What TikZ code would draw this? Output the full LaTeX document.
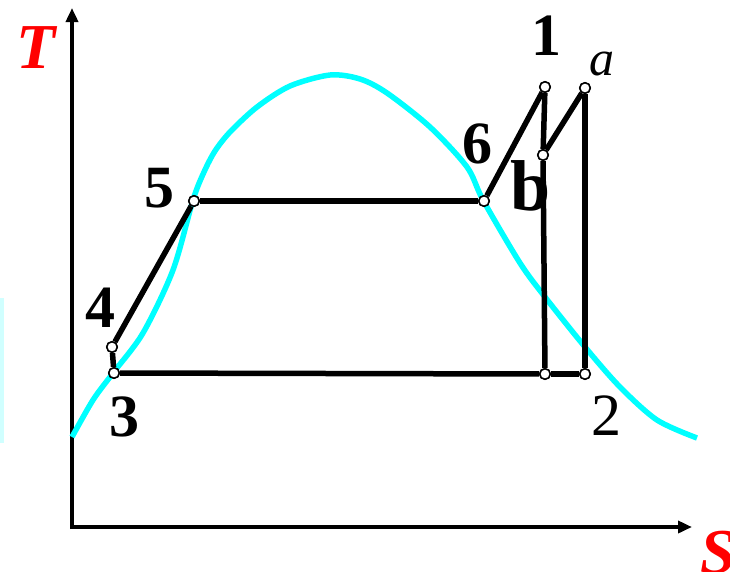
\documentclass[tikz,border=0pt]{standalone}
\usepackage{fontspec}
\setmainfont{Liberation Serif}
\usetikzlibrary{arrows.meta}
\definecolor{cyanline}{RGB}{0,255,255}
\definecolor{faintcyan}{RGB}{208,255,255}
\definecolor{labred}{RGB}{255,0,0}
\begin{document}
\begin{tikzpicture}[x=1pt,y=-1pt,
  axisline/.style={line width=4.5pt,-{Triangle[length=14pt,width=12pt]}},
  cycleline/.style={line width=5.5pt},
  satcurve/.style={cyanline,line width=5.5pt},
  statept/.style={circle,draw=black,fill=white,line width=1.5pt,minimum size=10.5pt,inner sep=0pt},
  numlab/.style={anchor=base,inner sep=0pt,font=\fontsize{60}{60}\selectfont\bfseries},
  axlab/.style={anchor=base,inner sep=0pt,text=labred,font=\fontsize{64}{64}\selectfont\bfseries\itshape}]
\useasboundingbox (0,0) rectangle (730,571);
% faint strip at left edge
\fill[faintcyan] (0,298) rectangle (4,443);
% axes
\coordinate (ytip) at (72,8);
\coordinate (xtip) at (692,527);
\draw[axisline] (72,529) -- (ytip);
\draw[axisline] (70,527) -- (xtip);
% saturation curve
\draw[satcurve] plot[smooth,tension=0.5] coordinates {(72,437) (93,400) (113,373) (143,333) (173,270) (193,200) (204,172) (215,151) (230,132) (257,107) (290,86) (330,75) (360,79) (387,93) (430,127) (467,167) (483,200) (520,263) (545,297) (585,347) (620,387) (657,420) (697,438)};
% state points
\node[statept] (p3) at (114,373) {};
\node[statept] (p4) at (112,347) {};
\node[statept] (p5) at (194,201) {};
\node[statept] (p6) at (484,201) {};
\node[statept] (p1) at (545,87) {};
\node[statept] (pb) at (543,155) {};
\node[statept] (pa) at (585,88) {};
\node[statept] (pc) at (545,374) {};
\node[statept] (p2) at (585,374) {};
% cycle lines
\draw[cycleline] (p3) -- (p4);
\draw[cycleline] (p4) -- (p5);
\draw[cycleline] (p5) -- (p6);
\draw[cycleline] (p6) -- (p1);
\draw[cycleline] (p1) -- (pb);
\draw[cycleline] (pb) -- (pc);
\draw[cycleline] (pb) -- (pa);
\draw[cycleline] (pa) -- (p2);
\draw[cycleline] (p3) -- (pc);
\draw[cycleline] (pc) -- (p2);
% redraw points on top
\foreach \p in {p3,p4,p5,p6,p1,pb,pa,pc,p2} {\node[statept] at (\p) {};}
% labels
\node[numlab] (l1) at (546,55) {1};
\node[anchor=base,inner sep=0pt,font=\fontsize{50}{50}\selectfont\itshape] (la) at (602,75) {a};
\node[numlab] (l6) at (477,163) {6};
\node[anchor=base,inner sep=0pt,font=\fontsize{72}{72}\selectfont\bfseries] (lb) at (531,210) {b};
\node[numlab] (l5) at (159,207) {5};
\node[numlab] (l4) at (100,327) {4};
\node[numlab] (l3) at (124,436) {3};
\node[anchor=base,inner sep=0pt,font=\fontsize{60}{60}\selectfont] (l2) at (606,435) {2};
\node[axlab] (lT) at (36,68) {T};
\node[axlab] (lS) at (718,573) {S};
\end{tikzpicture}
\end{document}
